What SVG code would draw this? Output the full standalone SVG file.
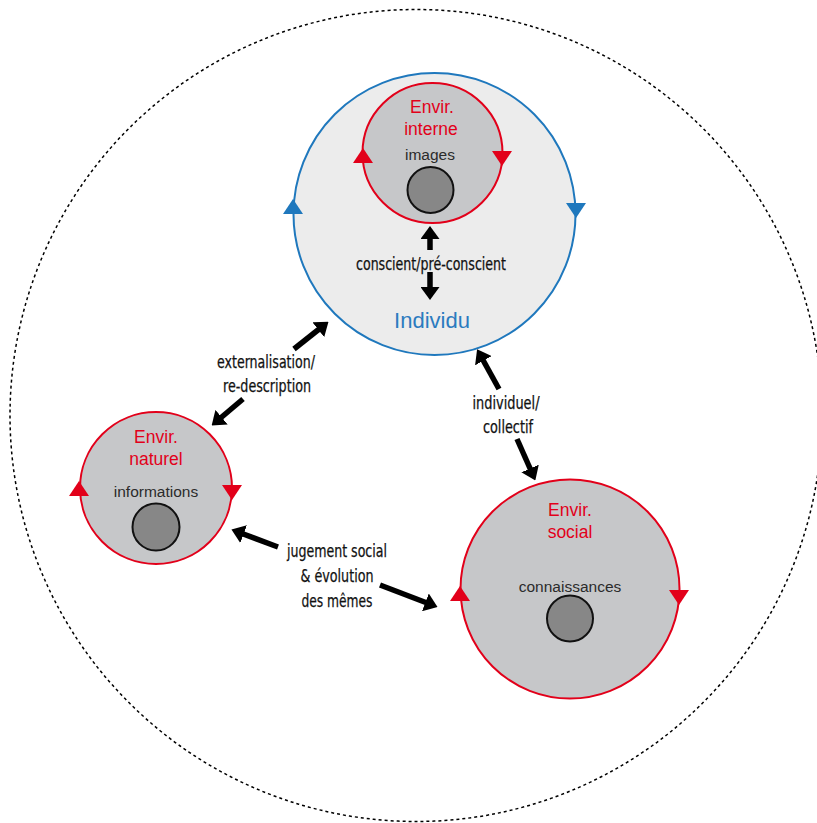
<svg xmlns="http://www.w3.org/2000/svg" width="817" height="823" viewBox="0 0 817 823">
<style>
.t{font-family:"Liberation Sans",Arial,sans-serif;text-anchor:middle}
.red{fill:#e2001a;font-size:17.5px}
.sub{fill:#2b2b2b;font-size:15.5px}
.lab{font-family:"Liberation Sans Narrow","DejaVu Sans Condensed","Liberation Sans",sans-serif;font-size:17.5px;fill:#111;text-anchor:middle;stroke:#111;stroke-width:0.25}
.env{fill:#c6c7c9;stroke:#e2001a;stroke-width:2}
.core{fill:#878787;stroke:#111;stroke-width:2}
.arr{stroke:#000;stroke-width:5.5;fill:none;marker-end:url(#ah)}
.tr{fill:#e2001a}
.tb{fill:#1f78bd}
</style>
<defs>
<marker id="ah" viewBox="0 0 13 19" refX="6" refY="9.5" markerWidth="13" markerHeight="19" markerUnits="userSpaceOnUse" orient="auto">
<path d="M0,0 L13,9.5 L0,19 z" fill="#000"/>
</marker>
<path id="up" d="M0,-8 L10,7 L-10,7 z"/>
<path id="dn" d="M-10,-7 L10,-7 L0,8 z"/>
</defs>
<rect width="817" height="823" fill="#fff"/>
<circle cx="416" cy="415.5" r="406" fill="none" stroke="#000" stroke-width="1.5" stroke-dasharray="3 3"/>

<g id="individu">
<circle cx="434.5" cy="214" r="141" fill="#ececec" stroke="#1f78bd" stroke-width="2"/>
<use href="#up" class="tb" x="293" y="207"/>
<use href="#dn" class="tb" x="576" y="210"/>
<text class="t" x="432" y="328" fill="#2b7bbf" font-size="22">Individu</text>
</g>

<g id="envir-interne">
<circle class="env" cx="432.5" cy="153" r="70"/>
<use href="#up" class="tr" x="363" y="156"/>
<use href="#dn" class="tr" x="502" y="158"/>
<text class="t red" x="432" y="113">Envir.</text>
<text class="t red" x="431" y="135">interne</text>
<text class="t sub" x="430" y="160">images</text>
<circle class="core" cx="430.5" cy="190" r="23"/>
</g>

<g id="envir-naturel">
<circle class="env" cx="156" cy="488" r="76"/>
<use href="#up" class="tr" x="79" y="489"/>
<use href="#dn" class="tr" x="232" y="492"/>
<text class="t red" x="156" y="443">Envir.</text>
<text class="t red" x="156" y="465">naturel</text>
<text class="t sub" x="156" y="497">informations</text>
<circle class="core" cx="156" cy="527" r="23.5"/>
</g>

<g id="envir-social">
<circle class="env" cx="570" cy="589" r="109.5"/>
<use href="#up" class="tr" x="460" y="594"/>
<use href="#dn" class="tr" x="679" y="597"/>
<text class="t red" x="570" y="516">Envir.</text>
<text class="t red" x="570" y="538">social</text>
<text class="t sub" x="570" y="592">connaissances</text>
<circle class="core" cx="570" cy="618.5" r="23"/>
</g>

<g id="connectors">
<line class="arr" x1="430" y1="250" x2="430" y2="233"/>
<line class="arr" x1="430" y1="272" x2="430" y2="293"/>
<line class="arr" x1="294" y1="349" x2="323" y2="326"/>
<line class="arr" x1="243" y1="399" x2="217" y2="421"/>
<line class="arr" x1="499" y1="389" x2="480.5" y2="355.5"/>
<line class="arr" x1="517" y1="439" x2="532.5" y2="474"/>
<line class="arr" x1="278" y1="547" x2="238" y2="532"/>
<line class="arr" x1="380" y1="585" x2="431" y2="604.5"/>
<text class="lab" x="431" y="270" textLength="150" lengthAdjust="spacingAndGlyphs">conscient/pré-conscient</text>
<text class="lab" x="266" y="368" textLength="98" lengthAdjust="spacingAndGlyphs">externalisation/</text>
<text class="lab" x="267" y="392" textLength="88" lengthAdjust="spacingAndGlyphs">re-description</text>
<text class="lab" x="506" y="409" textLength="67" lengthAdjust="spacingAndGlyphs">individuel/</text>
<text class="lab" x="508" y="433" textLength="50" lengthAdjust="spacingAndGlyphs">collectif</text>
<text class="lab" x="337" y="557" textLength="100" lengthAdjust="spacingAndGlyphs">jugement social</text>
<text class="lab" x="337" y="582" textLength="73" lengthAdjust="spacingAndGlyphs">&amp; évolution</text>
<text class="lab" x="337" y="607" textLength="71" lengthAdjust="spacingAndGlyphs">des mêmes</text>
</g>
</svg>
